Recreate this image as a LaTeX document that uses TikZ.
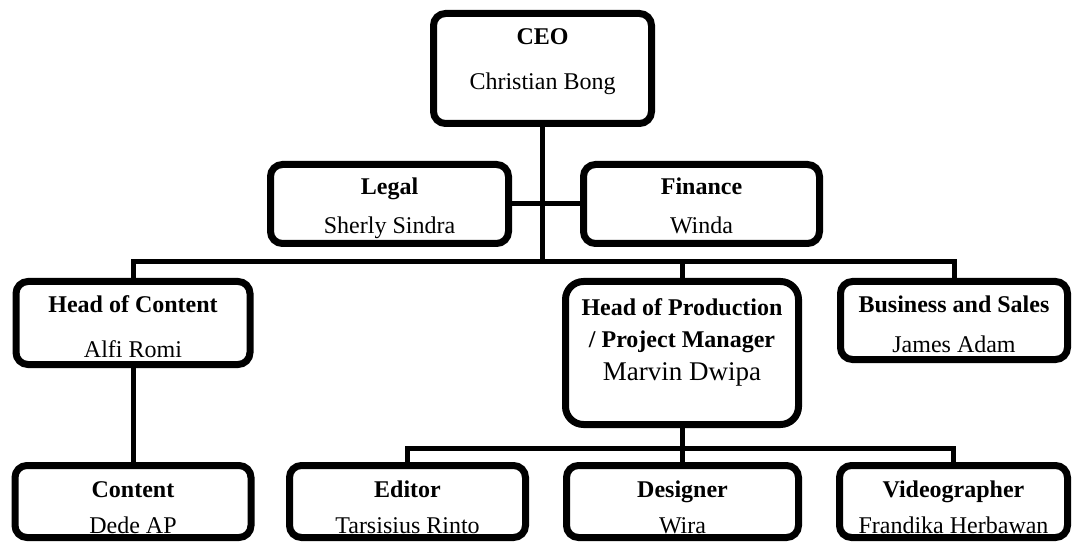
\documentclass[tikz,border=0pt]{standalone}
\usepackage{fontspec}
\setmainfont{Liberation Serif}
\begin{document}
\begin{tikzpicture}[x=1pt,y=-1pt,
  box/.style={draw=black, line width=7pt, rounded corners=12pt, fill=white, inner sep=0pt},
  conn/.style={draw=black, line width=5pt},
  ttl/.style={anchor=base, inner sep=0pt, font=\bfseries\fontsize{24}{28}\selectfont},
  nm/.style={anchor=base, inner sep=0pt, font=\fontsize{24}{28}\selectfont},
  bignm/.style={anchor=base, inner sep=0pt, font=\fontsize{27}{32}\selectfont}]
\useasboundingbox (0,0) rectangle (1073,545);

% boxes
\node[box, minimum width=218pt, minimum height=110pt] (ceo) at (542.5,68.5) {};
\node[box, minimum width=238pt, minimum height=79pt] (legal) at (389.5,204) {};
\node[box, minimum width=236pt, minimum height=79pt] (finance) at (701.5,204) {};
\node[box, minimum width=234pt, minimum height=83pt] (hoc) at (133,323) {};
\node[box, minimum width=233pt, minimum height=143pt, rounded corners=18pt] (hop) at (682,353) {};
\node[box, minimum width=227pt, minimum height=78pt] (bs) at (954,320.5) {};
\node[box, minimum width=236pt, minimum height=72pt] (content) at (133,501.5) {};
\node[box, minimum width=236pt, minimum height=72pt] (editor) at (407.5,501.5) {};
\node[box, minimum width=232pt, minimum height=72pt] (designer) at (682.5,501.5) {};
\node[box, minimum width=228pt, minimum height=72pt] (video) at (953.5,501.5) {};

% bars
\coordinate (bar1) at (0,262);
\coordinate (bar2) at (0,448);

% connectors
\draw[conn] (ceo.south) -- (ceo.south |- bar1);
\draw[conn] (legal.east) -- (finance.west);
\draw[conn] (hoc.north) -- (hoc.north |- bar1) -- (bs.north |- bar1) -- (bs.north);
\draw[conn] (hop.north |- bar1) -- (hop.north);
\draw[conn] (hoc.south) -- (content.north);
\draw[conn] (editor.north) -- (editor.north |- bar2) -- (video.north |- bar2) -- (video.north);
\draw[conn] (hop.south) -- (hop.south |- designer.north);

% texts
\node[ttl] (ceoT) at (542.5,45) {CEO};
\node[nm] (ceoN) at (542.5,90) {Christian Bong};
\node[ttl] (legalT) at (389.5,195) {Legal};
\node[nm] (legalN) at (389.5,234) {Sherly Sindra};
\node[ttl] (finT) at (701.5,195) {Finance};
\node[nm] (finN) at (701.5,234) {Winda};
\node[ttl] (hocT) at (133,312) {Head of Content};
\node[nm] (hocN) at (133,357) {Alfi Romi};
\node[ttl] (hopT1) at (682,315) {Head of Production};
\node[ttl] (hopT2) at (682,347) {/ Project Manager};
\node[bignm] (hopN) at (682,380) {Marvin Dwipa};
\node[ttl] (bsT) at (954,312) {Business and Sales};
\node[nm] (bsN) at (954,352) {James Adam};
\node[ttl] (conT) at (133,497) {Content};
\node[nm] (conN) at (133,533) {Dede AP};
\node[ttl] (edT) at (407.5,497) {Editor};
\node[nm] (edN) at (407.5,533) {Tarsisius Rinto};
\node[ttl] (desT) at (682.5,497) {Designer};
\node[nm] (desN) at (682.5,533) {Wira};
\node[ttl] (vidT) at (953.5,497) {Videographer};
\node[nm] (vidN) at (953.5,533) {Frandika Herbawan};
\end{tikzpicture}
\end{document}
